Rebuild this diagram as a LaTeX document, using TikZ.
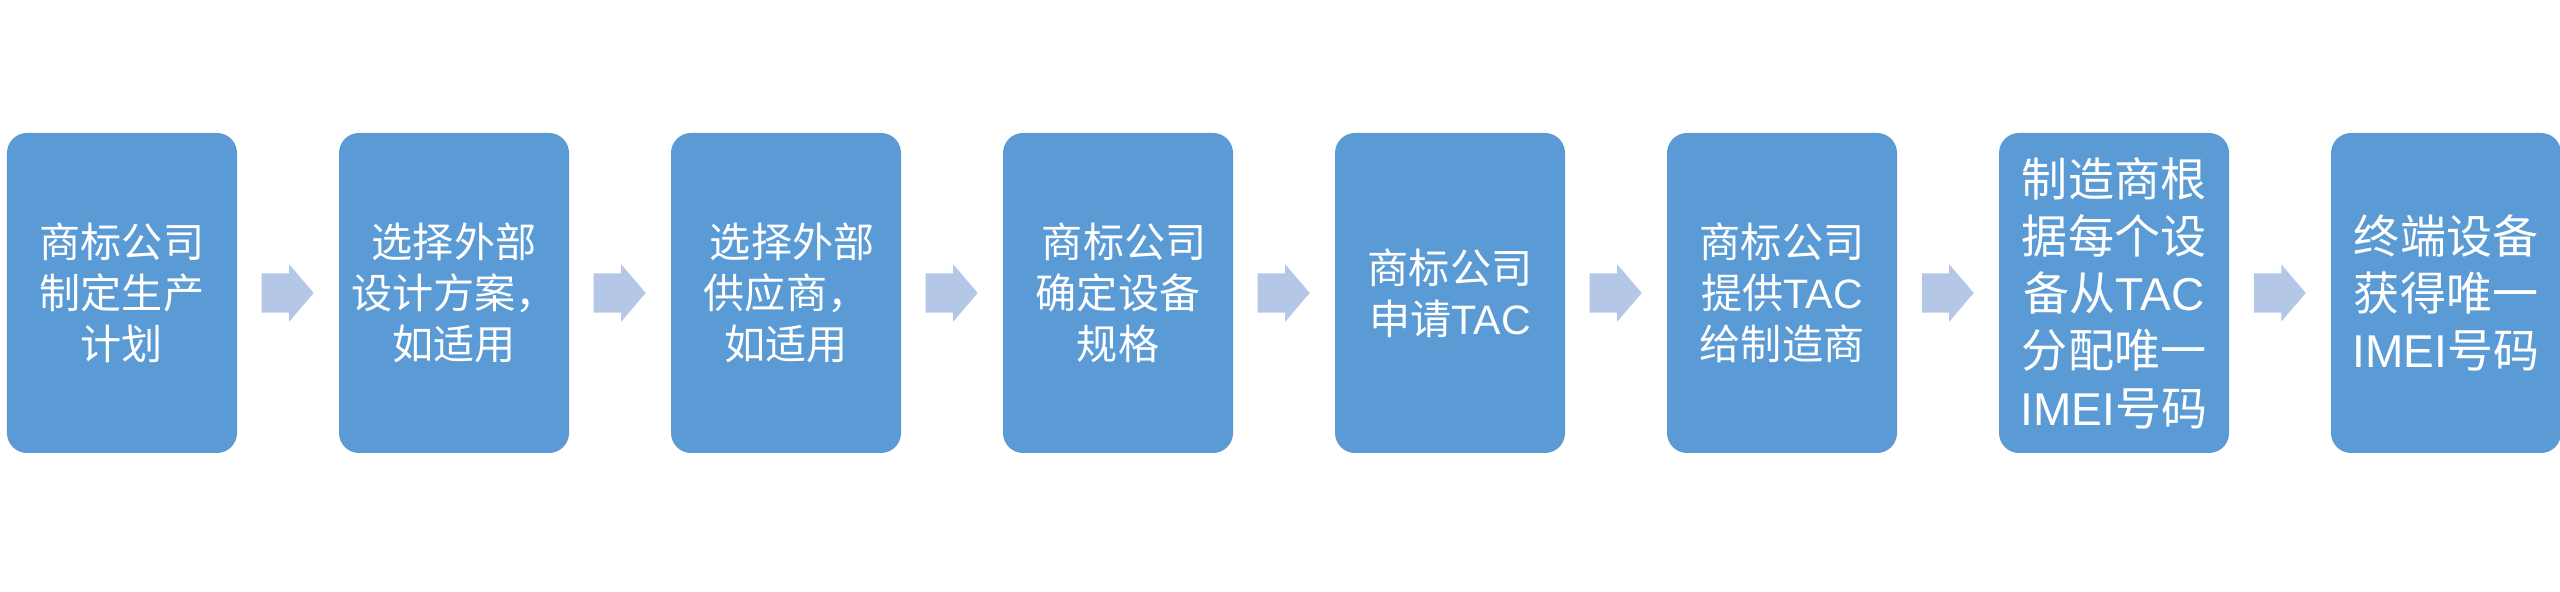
\documentclass[tikz,border=0pt]{standalone}
\usepackage{fontspec}
\setmainfont{Noto Sans CJK SC}
\newfontfamily\latinsf{Liberation Sans}
\newcommand{\lat}[1]{{\latinsf #1}}
\usetikzlibrary{positioning,shapes.arrows}

\definecolor{boxblue}{HTML}{5B9BD5}
\definecolor{arrowblue}{HTML}{B4C7E7}

\tikzset{
  stepbox/.style={rounded corners=0.2cm, fill=boxblue, draw=none, text=white,
    minimum width=2.3cm, minimum height=3.2cm, inner sep=0pt, align=center,
    font=\fontsize{11.7pt}{14.5pt}\selectfont},
  bigtext/.style={font=\fontsize{13.1pt}{16.3pt}\selectfont},
  flowarrow/.style={single arrow, fill=arrowblue, draw=none, inner xsep=0pt, inner ysep=0.19cm,
    outer sep=0pt, minimum height=0.52cm,
    single arrow head extend=0.09cm, single arrow tip angle=99}
}

\begin{document}
\begin{tikzpicture}
\useasboundingbox (0,0) rectangle (25.6,5.92);

\node[stepbox] (s1) at (1.22, 2.99) {商标公司\\制定生产\\计划};
\node[stepbox, right=1.006cm of s1] (s2) {选择外部\\设计方案，\\如适用};
\node[stepbox, right=1.006cm of s2] (s3) {\hspace*{0.3em}选择外部\\供应商，\\如适用};
\node[stepbox, right=1.006cm of s3] (s4) {\hspace*{0.3em}商标公司\\确定设备\\规格};
\node[stepbox, right=1.006cm of s4] (s5) {商标公司\\申请\lat{TAC}};
\node[stepbox, right=1.006cm of s5] (s6) {商标公司\\提供\lat{TAC}\\给制造商};
\node[stepbox, bigtext, right=1.006cm of s6] (s7) {制造商根\\据每个设\\备从\lat{TAC}\\分配唯一\\\lat{IMEI}号码};
\node[stepbox, bigtext, right=1.006cm of s7] (s8) {终端设备\\获得唯一\\\lat{IMEI}号码};

\node[flowarrow, right=0.24cm of s1] (a1) {};
\node[flowarrow, right=0.24cm of s2] (a2) {};
\node[flowarrow, right=0.24cm of s3] (a3) {};
\node[flowarrow, right=0.24cm of s4] (a4) {};
\node[flowarrow, right=0.24cm of s5] (a5) {};
\node[flowarrow, right=0.24cm of s6] (a6) {};
\node[flowarrow, right=0.24cm of s7] (a7) {};

\end{tikzpicture}
\end{document}
